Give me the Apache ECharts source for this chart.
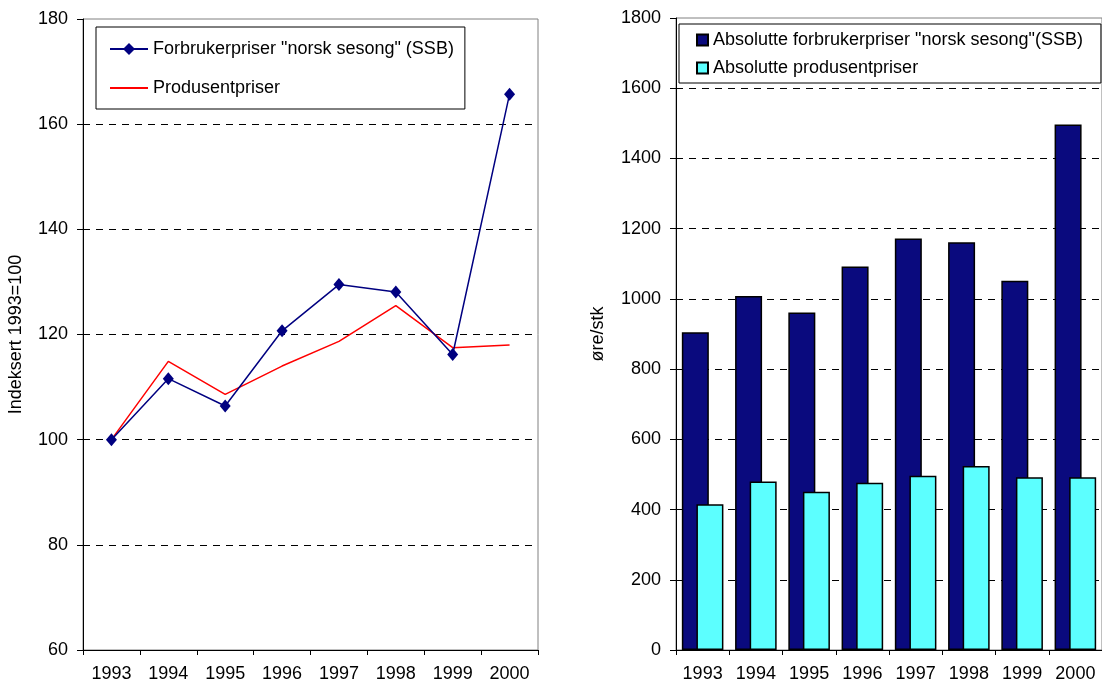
<!DOCTYPE html>
<html>
<head>
<meta charset="utf-8">
<script src="https://cdn.jsdelivr.net/npm/echarts@6/dist/echarts.min.js"></script>
<style>
html,body{margin:0;padding:0;background:#fff;}
#chart{width:1102px;height:685px;}
</style>
</head>
<body>
<div id="chart"></div>
<script>
const years = ['1993','1994','1995','1996','1997','1998','1999','2000'];
const consumerIndex = [100, 111.6, 106.4, 120.7, 129.5, 128.1, 116.2, 165.7];
const producerIndex = [100, 114.9, 108.6, 114.0, 118.7, 125.5, 117.5, 118.0];
const consumerAbs = [905, 1008, 961, 1092, 1172, 1161, 1052, 1497];
const producerAbs = [415, 480, 451, 476, 496, 524, 492, 492];
const seriesNames = ['Forbrukerpriser "norsk sesong" (SSB)', 'Produsentpriser',
  'Absolutte forbrukerpriser "norsk sesong"(SSB)', 'Absolutte produsentpriser'];
const axisNames = ['Indeksert 1993=100', 'øre/stk'];

const FONT = "'Liberation Sans', Arial, sans-serif";
const FS = 18;
const chart = echarts.init(document.getElementById('chart'), null, {renderer: 'canvas'});

function yAxisCommon(min, max, interval, name, nameGap) {
  return {
    type: 'value', min: min, max: max, interval: interval,
    name: name, nameLocation: 'middle', nameRotate: 90, nameGap: nameGap,
    nameTextStyle: {fontFamily: FONT, fontSize: FS, color: '#000'},
    axisLine: {show: true, lineStyle: {color: '#000', width: 1}},
    axisTick: {show: true, length: 6, lineStyle: {color: '#000'}},
    axisLabel: {fontFamily: FONT, fontSize: FS, color: '#000', margin: 15,
      formatter: function (v) { return String(v); }},
    splitLine: {show: true, showMinLine: false, showMaxLine: false,
      lineStyle: {color: '#000', type: [7, 6], width: 1}}
  };
}
function xAxisCommon(gridIndex) {
  return {
    type: 'category', data: years, gridIndex: gridIndex, boundaryGap: true,
    axisLine: {show: true, lineStyle: {color: '#000', width: 1}},
    axisTick: {show: true, length: 5, lineStyle: {color: '#000'}},
    axisLabel: {fontFamily: FONT, fontSize: FS, color: '#000', margin: 15},
    splitLine: {show: false}
  };
}

const option = {
  animation: false,
  backgroundColor: '#fff',
  grid: [
    {left: 83, top: 19, width: 455, height: 631, show: true, borderColor: '#808080', borderWidth: 1, backgroundColor: 'transparent'},
    {left: 676, top: 18, width: 433, height: 632, show: true, borderColor: '#808080', borderWidth: 1, backgroundColor: 'transparent'}
  ],
  xAxis: [xAxisCommon(0), xAxisCommon(1)],
  yAxis: [
    Object.assign(yAxisCommon(60, 180, 20, axisNames[0], 58), {gridIndex: 0}),
    Object.assign(yAxisCommon(0, 1800, 200, axisNames[1], 69), {gridIndex: 1})
  ],
  legend: [
    {
      data: [seriesNames[0], {name: seriesNames[1], itemStyle: {opacity: 0}}],
      orient: 'vertical', left: 96, top: 27,
      padding: [12, 11, 11, 13], itemGap: 19,
      itemWidth: 38, itemHeight: 15,
      borderColor: '#000', borderWidth: 1, backgroundColor: '#fff',
      textStyle: {fontFamily: FONT, fontSize: FS, color: '#000', lineHeight: 20},
      selectedMode: false
    },
    {
      data: [seriesNames[2], seriesNames[3]],
      orient: 'vertical', left: 679, top: 24,
      padding: [6, 18, 5, 17], itemGap: 8,
      itemWidth: 11, itemHeight: 11, icon: 'rect',
      borderColor: '#000', borderWidth: 1, backgroundColor: '#fff',
      textStyle: {fontFamily: FONT, fontSize: FS, color: '#000', lineHeight: 20},
      selectedMode: false
    }
  ],
  series: [
    {
      name: seriesNames[0], type: 'line', xAxisIndex: 0, yAxisIndex: 0,
      data: consumerIndex, symbol: 'diamond', symbolSize: [11, 13],
      lineStyle: {color: '#000080', width: 1.5},
      itemStyle: {color: '#000080'}, z: 3
    },
    {
      name: seriesNames[1], type: 'line', xAxisIndex: 0, yAxisIndex: 0,
      data: producerIndex, symbol: 'none',
      lineStyle: {color: '#ff0000', width: 1.5},
      itemStyle: {color: '#ff0000'}, z: 2
    },
    {
      name: seriesNames[2], type: 'bar', xAxisIndex: 1, yAxisIndex: 1,
      data: consumerAbs, barWidth: 27, barGap: '-46%',
      itemStyle: {color: '#0a0a7e', borderColor: '#000', borderWidth: 1.5},
      z: 2
    },
    {
      name: seriesNames[3], type: 'bar', xAxisIndex: 1, yAxisIndex: 1,
      data: producerAbs, barWidth: 27, barGap: '-46%',
      itemStyle: {color: '#5cffff', borderColor: '#000', borderWidth: 1.5},
      z: 3
    }
  ]
};
chart.setOption(option);
</script>
</body>
</html>
